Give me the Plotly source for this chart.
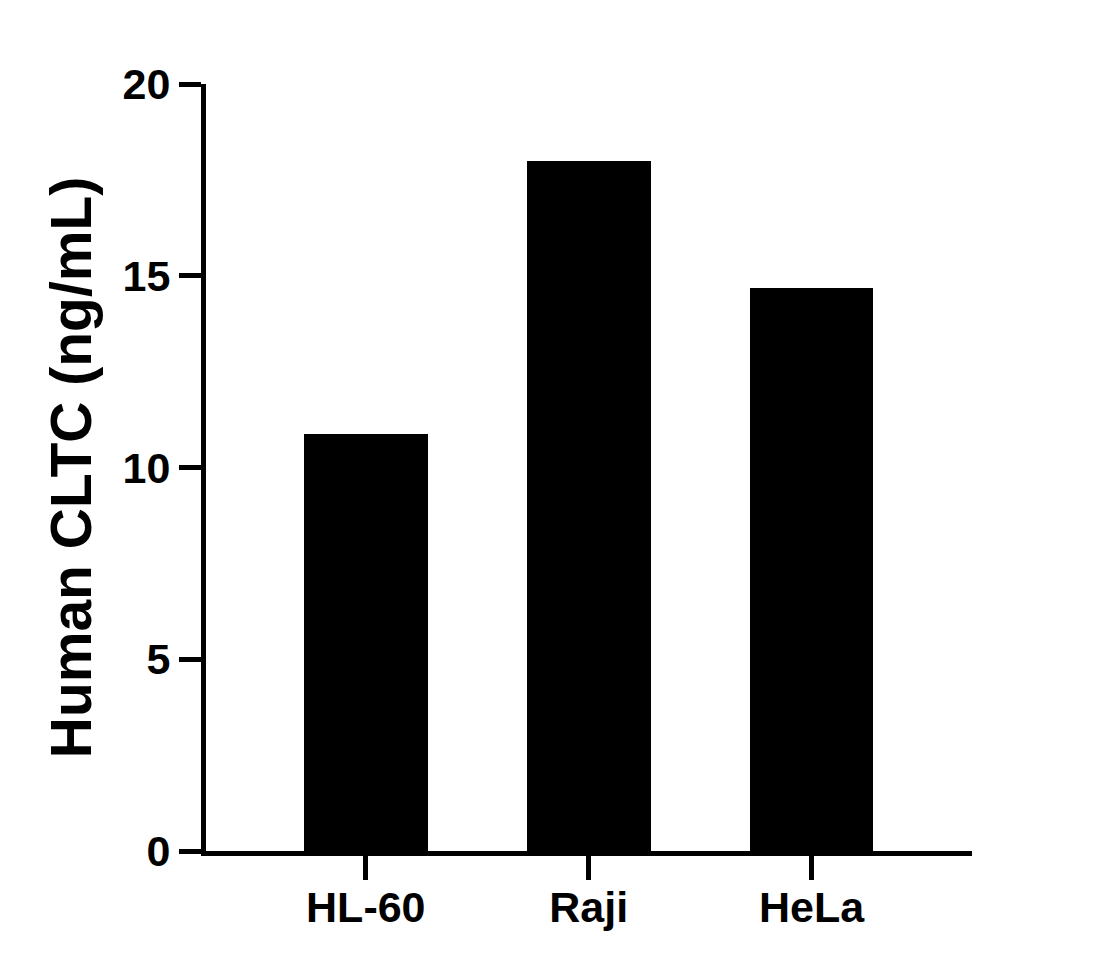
import plotly.graph_objects as go

# データ
cell_lines = ['HL-60', 'Raji', 'HeLa']
cltc_values = [10.87, 18.0, 14.69]
y_ticks = [0, 5, 10, 15, 20]

FONT = 'Liberation Sans, Arial, sans-serif'

fig = go.Figure()

fig.add_trace(go.Bar(
    x=cell_lines,
    y=cltc_values,
    width=0.556,
    marker=dict(color='black', line=dict(width=0)),
    showlegend=False
))

fig.update_layout(
    width=1110,
    height=968,
    paper_bgcolor='white',
    plot_bgcolor='white',
    margin=dict(l=198, r=146, t=76, b=125),
    font=dict(family=FONT, color='black', size=43, weight='bold'),
    bargap=0,
)

fig.update_xaxes(
    type='category',
    range=[-0.717, 2.72],
    showline=True,
    linewidth=5,
    linecolor='black',
    ticks='outside',
    ticklen=24,
    tickwidth=5,
    tickcolor='black',
    ticklabelstandoff=-10,
    showgrid=False,
    zeroline=False,
    tickfont=dict(family=FONT, size=43, color='black', weight='bold'),
)

fig.update_yaxes(
    range=[0, 20],
    tickvals=y_ticks,
    showline=True,
    linewidth=5,
    linecolor='black',
    ticks='outside',
    ticklen=22,
    tickwidth=5,
    tickcolor='black',
    showgrid=False,
    zeroline=False,
    tickfont=dict(family=FONT, size=43, color='black', weight='bold'),
    title=dict(
        text='Human CLTC (ng/mL)',
        font=dict(family=FONT, size=57, color='black', weight='bold'),
        standoff=14
    ),
)

fig.write_html('out.html')
